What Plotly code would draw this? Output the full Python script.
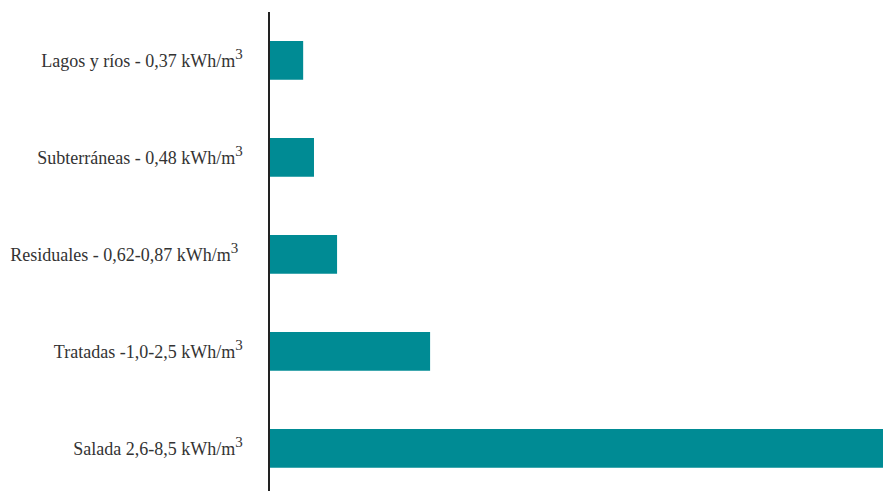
import plotly.graph_objects as go

SUP3 = '<sup><span style="font-size:15px">3</span></sup>'

categories = [
    "Salada 2,6-8,5 kWh/m" + SUP3,
    "Tratadas -1,0-2,5 kWh/m" + SUP3,
    "Residuales - 0,62-0,87 kWh/m" + SUP3 + " ",
    "Subterráneas - 0,48 kWh/m" + SUP3,
    "Lagos y ríos - 0,37 kWh/m" + SUP3,
]
values = [8.5, 2.22, 0.93, 0.61, 0.46]

fig = go.Figure(
    go.Bar(
        x=values,
        y=categories,
        orientation="h",
        width=0.4,
        marker=dict(color="#008B94", line=dict(width=0)),
        hoverinfo="x+y",
    )
)

fig.update_layout(
    width=883,
    height=491,
    margin=dict(l=270, r=0, t=12, b=0),
    paper_bgcolor="white",
    plot_bgcolor="white",
    showlegend=False,
    font=dict(family="Liberation Serif, DejaVu Serif, serif", size=18, color="#333333"),
    xaxis=dict(
        range=[0, 8.5],
        showgrid=False,
        zeroline=False,
        showticklabels=False,
        showline=False,
        fixedrange=True,
    ),
    yaxis=dict(
        type="category",
        categoryorder="array",
        categoryarray=categories,
        range=[-0.44, 4.5],
        showgrid=False,
        zeroline=False,
        showline=True,
        linecolor="#222222",
        linewidth=1.5,
        ticks="",
        ticklabelstandoff=22,
        tickfont=dict(family="Liberation Serif, DejaVu Serif, serif", size=18, color="#333333"),
        fixedrange=True,
    ),
)

fig.write_html("out.html")
